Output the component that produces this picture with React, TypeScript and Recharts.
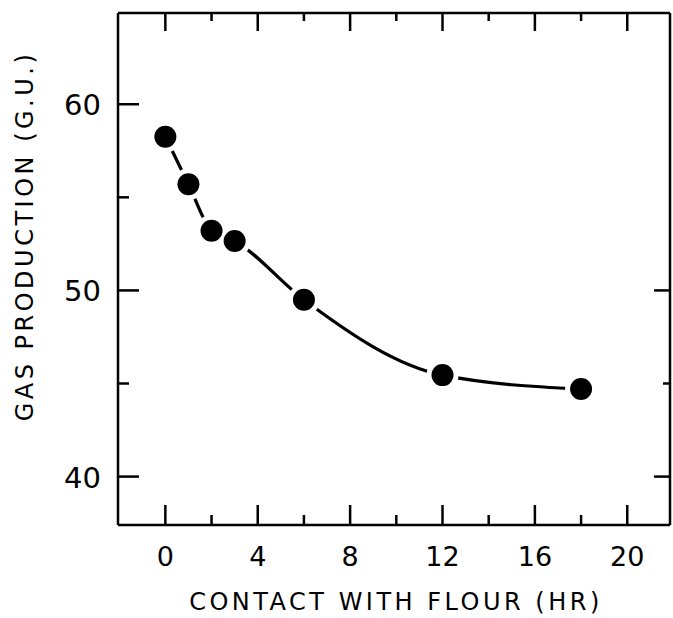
import { ComposedChart, Line, Scatter, XAxis, YAxis } from 'recharts';

// contact time with flour (hr) and gas production (G.U.)
const hours = [0, 1, 2, 3, 6, 12, 18];
const gas = [58.25, 55.7, 53.2, 52.65, 49.5, 45.45, 44.7];

const xTicks = [0, 2, 4, 6, 8, 10, 12, 14, 16, 18, 20];
const xLabelTicks = [0, 4, 8, 12, 16, 20];
const yLeftTicks = [40, 45, 50, 55, 60];
const yRightTicks = [40, 45, 50];
const yLabelTicks = [40, 50, 60];

const data = hours.map((h, i) => ({ x: h, y: gas[i] }));

const FONT = '"DejaVu Sans", sans-serif';
const INK = '#000';

const BottomTick = ({ x, y, payload }: any) => {
  const v = payload.value;
  const major = xLabelTicks.includes(v);
  return (
    <g>
      <line x1={x} x2={x} y1={y} y2={y - (major ? 20 : 10)} stroke={INK} strokeWidth={2.5} />
      {major && (
        <text x={x} y={y + 41} textAnchor="middle" fontSize={27} fontFamily={FONT} fill={INK}>
          {v}
        </text>
      )}
    </g>
  );
};

const TopTick = ({ x, y, payload }: any) => {
  const major = xLabelTicks.includes(payload.value);
  return <line x1={x} x2={x} y1={y} y2={y + (major ? 18 : 8)} stroke={INK} strokeWidth={2.5} />;
};

const LeftTick = ({ x, y, payload }: any) => {
  const v = payload.value;
  const major = yLabelTicks.includes(v);
  return (
    <g>
      <line x1={x} x2={x + (major ? 21 : 11)} y1={y} y2={y} stroke={INK} strokeWidth={2.5} />
      {major && (
        <text x={x - 17} y={y + 11} textAnchor="end" fontSize={29} fontFamily={FONT} fill={INK}>
          {v}
        </text>
      )}
    </g>
  );
};

const RightTick = ({ x, y, payload }: any) => {
  const major = yLabelTicks.includes(payload.value);
  return <line x1={x} x2={x - (major ? 16 : 7)} y1={y} y2={y} stroke={INK} strokeWidth={2.5} />;
};

const axisLine = { stroke: INK, strokeWidth: 2.5 };

const App = () => {
  return (
    <div style={{ position: 'absolute', left: 0, top: 0, background: '#fff' }}>
      <ComposedChart width={673} height={618} data={data} margin={{ top: 0, right: 0, bottom: 33, left: 0 }}>
        <XAxis
          dataKey="x"
          type="number"
          domain={[-2.05, 21.85]}
          allowDataOverflow
          ticks={xTicks}
          interval={0}
          height={60}
          tickSize={0}
          tickMargin={0}
          tickLine={false}
          axisLine={axisLine}
          tick={BottomTick}
        />
        <XAxis
          xAxisId="top"
          orientation="top"
          dataKey="x"
          type="number"
          domain={[-2.05, 21.85]}
          allowDataOverflow
          ticks={xTicks}
          interval={0}
          height={13}
          tickSize={0}
          tickMargin={0}
          tickLine={false}
          axisLine={axisLine}
          tick={TopTick}
        />
        <YAxis
          type="number"
          domain={[37.4, 64.9]}
          allowDataOverflow
          ticks={yLeftTicks}
          interval={0}
          width={118}
          tickSize={0}
          tickMargin={0}
          tickLine={false}
          axisLine={axisLine}
          tick={LeftTick}
        />
        <YAxis
          yAxisId="right"
          orientation="right"
          type="number"
          domain={[37.4, 64.9]}
          allowDataOverflow
          ticks={yRightTicks}
          interval={0}
          width={3}
          tickSize={0}
          tickMargin={0}
          tickLine={false}
          axisLine={axisLine}
          tick={RightTick}
        />
        <Line
          dataKey="y"
          type="monotone"
          stroke={INK}
          strokeWidth={3.2}
          dot={false}
          isAnimationActive={false}
        />
        <Scatter
          dataKey="y"
          isAnimationActive={false}
          shape={(p: any) => <circle cx={p.cx} cy={p.cy} r={16} fill="#fff" />}
        />
        <Scatter
          dataKey="y"
          isAnimationActive={false}
          shape={(p: any) => <circle cx={p.cx} cy={p.cy} r={11} fill={INK} />}
        />
        <text
          x={396}
          y={610}
          textAnchor="middle"
          fontSize={24}
          letterSpacing={3.5}
          fontFamily={FONT}
          fill={INK}
        >
          CONTACT WITH FLOUR (HR)
        </text>
        <text
          transform="translate(33, 236) rotate(-90)"
          textAnchor="middle"
          fontSize={24}
          letterSpacing={3.5}
          fontFamily={FONT}
          fill={INK}
        >
          GAS PRODUCTION (G.U.)
        </text>
      </ComposedChart>
    </div>
  );
};

export default App;
